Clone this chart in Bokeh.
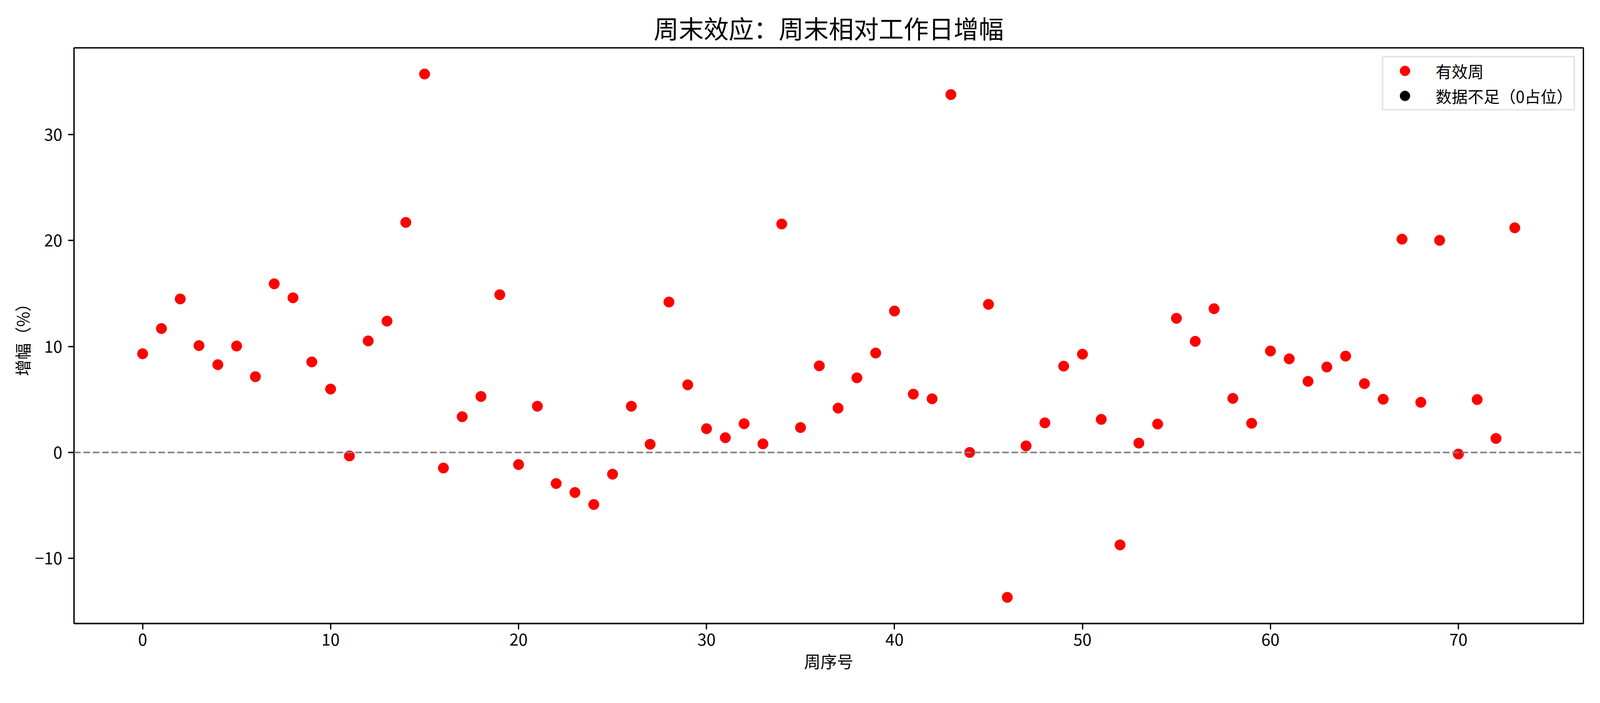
from bokeh.plotting import figure
from bokeh.models import (Range1d, FixedTicker, Span, Legend, LegendItem, ColumnDataSource)
from bokeh.embed import file_html
from bokeh.resources import INLINE

# ---- data ----
title_text = "周末效应：周末相对工作日增幅"
x_label = "周序号"
y_label = "增幅（%）"
valid_label = "有效周"
missing_label = "数据不足（0占位）"

uplift = [9.31, 11.69, 14.48, 10.08, 8.28, 10.04, 7.15, 15.91, 14.59, 8.54,
          5.98, -0.33, 10.52, 12.39, 21.70, 35.70, -1.47, 3.37, 5.28, 14.88,
          -1.14, 4.36, -2.93, -3.78, -4.91, -2.05, 4.36, 0.77, 14.19, 6.38,
          2.24, 1.39, 2.71, 0.81, 21.55, 2.35, 8.17, 4.18, 7.04, 9.38,
          13.34, 5.50, 5.06, 33.76, 0.00, 13.97, -13.67, 0.62, 2.79, 8.14,
          9.27, 3.12, -8.72, 0.88, 2.68, 12.65, 10.48, 13.56, 5.10, 2.75,
          9.57, 8.83, 6.71, 8.06, 9.09, 6.49, 5.02, 20.12, 4.73, 20.01,
          -0.15, 4.99, 1.32, 21.19]
week = list(range(len(uplift)))
# weeks with too little data (drawn as 0 placeholders) – none visible in the chart
missing_week = [float("nan")]
missing_uplift = [float("nan")]

x_ticks = [0, 10, 20, 30, 40, 50, 60, 70]
y_ticks = [-10, 0, 10, 20, 30]

FONT = "Noto Sans CJK SC"

xpad = 0.05 * (max(week) - min(week))
ypad = 0.05 * (max(uplift) - min(uplift))

p = figure(frame_width=3864, frame_height=1474, output_backend="svg", toolbar_location=None,
           x_range=Range1d(min(week) - xpad, max(week) + xpad),
           y_range=Range1d(min(uplift) - ypad, max(uplift) + ypad),
           min_border_left=189, min_border_right=30,
           min_border_top=122, min_border_bottom=130)

p.title.text = title_text
p.title.text_font = FONT
p.title.text_font_size = "64px"
p.title.text_font_style = "normal"
p.title.align = "center"
p.title.text_color = "black"
p.title.standoff = 14

p.xgrid.visible = False
p.ygrid.visible = False
p.outline_line_color = "black"
p.outline_line_width = 3.3
p.background_fill_color = "white"
p.border_fill_color = "white"

for ax in (p.xaxis[0], p.yaxis[0]):
    ax.axis_line_width = 3.3
    ax.major_tick_line_width = 3.3
    ax.major_tick_out = 15
    ax.major_tick_in = 0
    ax.minor_tick_line_color = None
    ax.major_label_text_font = FONT
    ax.major_label_text_font_size = "42px"
    ax.major_label_text_color = "black"
    ax.axis_label_text_font = FONT
    ax.axis_label_text_font_size = "42px"
    ax.axis_label_text_font_style = "normal"
    ax.axis_label_text_color = "black"

p.xaxis.ticker = FixedTicker(ticks=x_ticks)
p.yaxis.ticker = FixedTicker(ticks=y_ticks)
p.yaxis.major_label_overrides = {t: ("\u2212" + str(abs(t)) if t < 0 else str(t)) for t in y_ticks}
p.xaxis.axis_label = x_label
p.yaxis.axis_label = y_label
p.xaxis.major_label_standoff = 10
p.yaxis.major_label_standoff = 15
p.xaxis.axis_label_standoff = 5
p.yaxis.axis_label_standoff = 0

src = ColumnDataSource(dict(x=week, y=uplift))
r_valid = p.scatter("x", "y", source=src, size=27, fill_color="#ff0000", line_color="#ff0000")
src_m = ColumnDataSource(dict(x=missing_week, y=missing_uplift))
r_missing = p.scatter("x", "y", source=src_m, size=27, fill_color="black", line_color="black")

zero = Span(location=0, dimension="width", line_color="#808080", line_width=4, line_dash="17 7")
p.add_layout(zero)

legend = Legend(items=[LegendItem(label=valid_label, renderers=[r_valid], index=0),
                       LegendItem(label=missing_label, renderers=[r_missing], index=0)],
                location="top_right", margin=21, padding=2, spacing=0,
                glyph_width=106, glyph_height=64, label_height=64, label_standoff=26,
                label_text_font=FONT, label_text_font_size="41px", label_text_color="black",
                border_line_color="#cccccc", border_line_width=4,
                background_fill_color="white", background_fill_alpha=0.8)
p.add_layout(legend)

open("out.html", "w").write(file_html(p, INLINE))
